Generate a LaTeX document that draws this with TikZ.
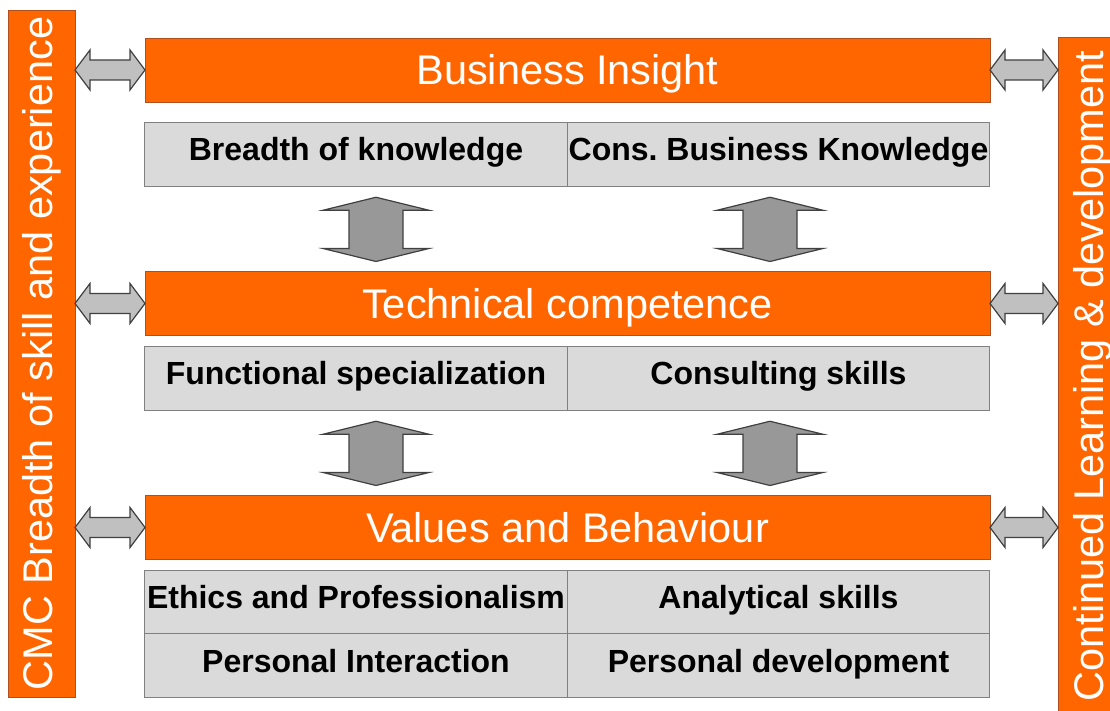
\documentclass[tikz,border=0pt]{standalone}
\usepackage{fontspec}
\setmainfont{Liberation Sans}
\usetikzlibrary{positioning, calc}
\definecolor{barorange}{RGB}{255,102,0}
\definecolor{baredge}{RGB}{175,80,30}
\definecolor{cellgray}{RGB}{218,218,218}
\definecolor{celledge}{RGB}{128,128,128}
\definecolor{arrowlight}{RGB}{192,192,192}
\definecolor{arrowdark}{RGB}{152,152,152}
\definecolor{arrowedge}{RGB}{64,64,64}

% double arrows: left to right / top to bottom
\newcommand{\harr}[2]{%
  \draw[h_arrow] (#1) -- ($(#1)+(15,-20)$) -- ($(#1)+(15,-10)$) -- ($(#2)+(-15,-10)$) -- ($(#2)+(-15,-20)$) -- (#2)
    -- ($(#2)+(-15,20)$) -- ($(#2)+(-15,10)$) -- ($(#1)+(15,10)$) -- ($(#1)+(15,20)$) -- cycle;}
\newcommand{\varr}[2]{%
  \draw[v_arrow] (#1) -- ($(#1)+(53,13)$) -- ($(#1)+(27,13)$) -- ($(#2)+(27,-13)$) -- ($(#2)+(53,-13)$) -- (#2)
    -- ($(#2)+(-53,-13)$) -- ($(#2)+(-27,-13)$) -- ($(#1)+(-27,13)$) -- ($(#1)+(-53,13)$) -- cycle;}

\begin{document}
\begin{tikzpicture}[
    x=0.5pt, y=-0.5pt,
    % styles
    side_bar/.style={
        draw=baredge, fill=barorange, text=white, rotate=90,
        inner sep=0pt, outer sep=0pt, font=\fontsize{20.75}{24}\selectfont
    },
    head_bar/.style={
        draw=baredge, fill=barorange, text=white, minimum width=422.5pt, minimum height=32pt,
        text height=16pt, text depth=1pt,
        inner sep=0pt, outer sep=0pt, font=\fontsize{20.75}{24}\selectfont
    },
    cell/.style={
        draw=celledge, fill=cellgray, minimum width=211.25pt, minimum height=31.75pt,
        text height=11.5pt, text depth=5pt,
        inner sep=0pt, outer sep=0pt, font=\fontsize{16}{19}\selectfont\bfseries
    },
    h_arrow/.style={
        draw=arrowedge, fill=arrowlight, line width=0.6pt
    },
    v_arrow/.style={
        draw=arrowedge, fill=arrowdark, line width=0.6pt
    }
]
    \useasboundingbox (0,0) rectangle (1110,711);

    % --- SIDE BARS (rotated: south is the right side, north the left side) ---
    \node[side_bar, minimum width=343.5pt, minimum height=33.5pt] (cmc) at (41.5,353.5) {CMC Breadth of skill and experience};
    \node[side_bar, minimum width=339pt, minimum height=35pt] (cld) at (1093,376) {Continued Learning \& development};

    % --- HEADERS ---
    \node[head_bar] (bi) at (567.5,70) {Business Insight};
    \node[head_bar] (tc) at (567.5,303.5) {Technical competence};
    \node[head_bar] (vb) at (567.5,527.5) {Values and Behaviour};

    % --- CELLS ---
    \node[cell] (bk) at (356,154.5) {Breadth of knowledge};
    \node[cell, right=0pt of bk] (cbk) {Cons.\ Business Knowledge};

    \node[cell] (fs) at (356,378.5) {Functional specialization};
    \node[cell, right=0pt of fs] (cs) {Consulting skills};

    \node[cell] (ep) at (356,602) {Ethics and Professionalism};
    \node[cell, right=0pt of ep] (as) {Analytical skills};
    \node[cell, below=0pt of ep] (pi) {Personal Interaction};
    \node[cell, right=0pt of pi] (pd) {Personal development};

    % --- SIDE ARROWS ---
    \harr{cmc.south |- bi.west}{bi.west}
    \harr{cmc.south |- tc.west}{tc.west}
    \harr{cmc.south |- vb.west}{vb.west}
    \harr{bi.east}{cld.north |- bi.east}
    \harr{tc.east}{cld.north |- tc.east}
    \harr{vb.east}{cld.north |- vb.east}

    % --- LEVEL ARROWS ---
    \coordinate (v1t) at ($(bk.south)+(20,11)$);
    \coordinate (v1b) at ($(tc.north -| v1t)+(0,-10)$);
    \coordinate (v2t) at ($(cbk.south)+(-8.5,11)$);
    \coordinate (v2b) at ($(tc.north -| v2t)+(0,-10)$);
    \coordinate (v3t) at ($(fs.south)+(20,11)$);
    \coordinate (v3b) at ($(vb.north -| v3t)+(0,-10)$);
    \coordinate (v4t) at ($(cs.south)+(-8.5,11)$);
    \coordinate (v4b) at ($(vb.north -| v4t)+(0,-10)$);
    \varr{v1t}{v1b}
    \varr{v2t}{v2b}
    \varr{v3t}{v3b}
    \varr{v4t}{v4b}

\end{tikzpicture}
\end{document}
